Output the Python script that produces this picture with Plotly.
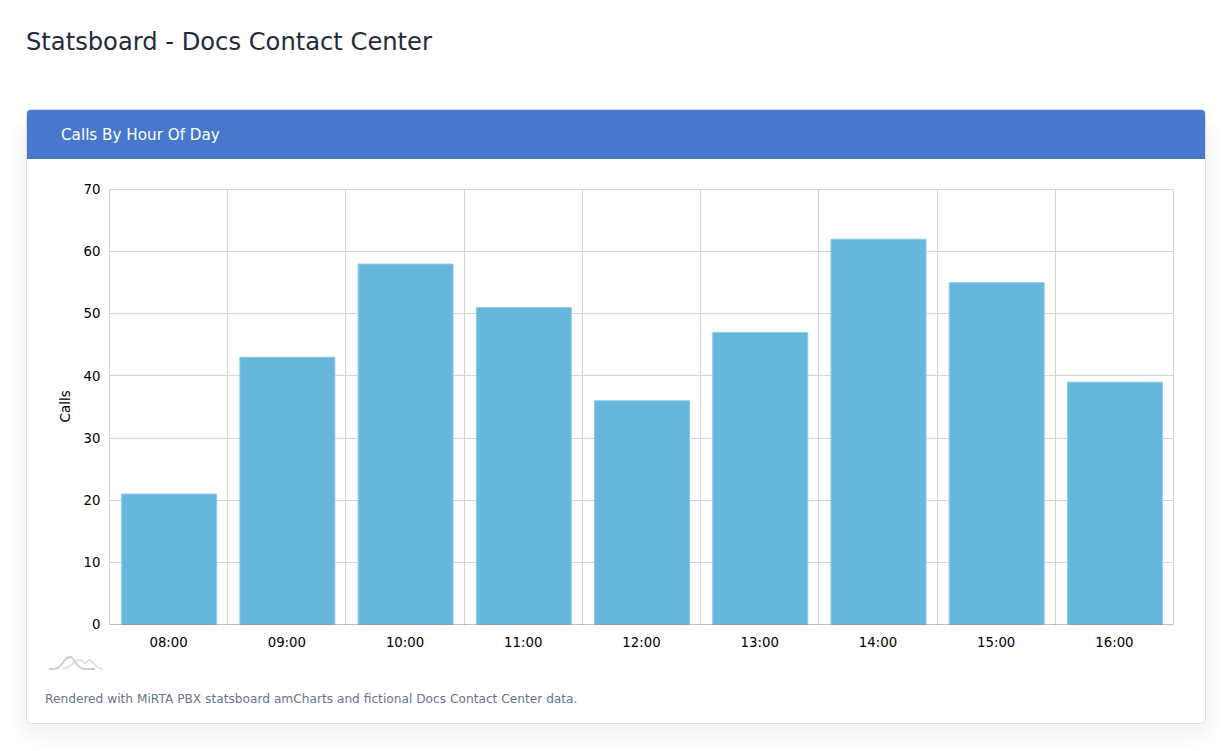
import plotly.graph_objects as go

# Chart data
hours = ["08:00", "09:00", "10:00", "11:00", "12:00", "13:00", "14:00", "15:00", "16:00"]
calls = [21, 43, 58, 51, 36, 47, 62, 55, 39]
y_ticks = [0, 10, 20, 30, 40, 50, 60, 70]

WIDTH, HEIGHT = 1232, 751
FONT = "DejaVu Sans"


def fx(x):
    return x / WIDTH


def fy(y):
    return 1 - y / HEIGHT


def rounded_path(x0, y0, x1, y1, rt, rb):
    """SVG path for a box with separate top and bottom corner radii, in page pixels."""
    pts = [
        f"M{fx(x0 + rt)},{fy(y0)}",
        f"L{fx(x1 - rt)},{fy(y0)}",
        f"Q{fx(x1)},{fy(y0)} {fx(x1)},{fy(y0 + rt)}",
        f"L{fx(x1)},{fy(y1 - rb)}",
        f"Q{fx(x1)},{fy(y1)} {fx(x1 - rb)},{fy(y1)}",
        f"L{fx(x0 + rb)},{fy(y1)}",
        f"Q{fx(x0)},{fy(y1)} {fx(x0)},{fy(y1 - rb)}",
        f"L{fx(x0)},{fy(y0 + rt)}",
        f"Q{fx(x0)},{fy(y0)} {fx(x0 + rt)},{fy(y0)}",
        "Z",
    ]
    return " ".join(pts)


def curve(points):
    """Open SVG path from page-pixel control points: start point then cubic triples."""
    (sx, sy), rest = points[0], points[1:]
    d = f"M{fx(sx)},{fy(sy)}"
    for i in range(0, len(rest), 3):
        a, b, c = rest[i:i + 3]
        d += f" C{fx(a[0])},{fy(a[1])} {fx(b[0])},{fy(b[1])} {fx(c[0])},{fy(c[1])}"
    return d


shapes = []

# Soft card shadow built from stacked translucent boxes, offset downward
for i in range(12):
    side = -6 + i * 2.2
    shapes.append(dict(
        type="path", xref="paper", yref="paper", layer="below",
        path=rounded_path(26.5 - side, 130 - i * 1.5, 1205.5 + side, 727 + i * 2,
                          side + 18, side + 18),
        fillcolor="rgba(0,0,0,0.0048)", line=dict(width=0),
    ))

# Card body and blue header band
shapes.append(dict(type="path", xref="paper", yref="paper", layer="below",
                   path=rounded_path(26.5, 109.5, 1205.5, 723.5, 5, 5),
                   fillcolor="#ffffff", line=dict(color="#d9dde6", width=1)))
shapes.append(dict(type="path", xref="paper", yref="paper", layer="below",
                   path=(f"M{fx(27)},{fy(159)} L{fx(27)},{fy(114)} Q{fx(27)},{fy(110)} {fx(31)},{fy(110)} "
                         f"L{fx(1201)},{fy(110)} Q{fx(1205)},{fy(110)} {fx(1205)},{fy(114)} "
                         f"L{fx(1205)},{fy(159)} Z"),
                   fillcolor="#4878cc", line=dict(width=0)))

# Plot frame: light on three sides, darker baseline drawn over the bars
frame_light = dict(color="#d4d4d4", width=1)
shapes.extend([
    dict(type="line", xref="x domain", yref="y domain", x0=0, x1=0, y0=0, y1=1, line=frame_light),
    dict(type="line", xref="x domain", yref="y domain", x0=1, x1=1, y0=0, y1=1, line=frame_light),
    dict(type="line", xref="x domain", yref="y domain", x0=0, x1=1, y0=1, y1=1, line=frame_light),
    dict(type="line", xref="x domain", yref="y domain", x0=0, x1=1, y0=0, y1=0,
         line=dict(color="rgba(0,0,0,0.25)", width=1)),
])

# Small wave logo under the axis
shapes.extend([
    dict(type="path", xref="paper", yref="paper", line=dict(color="#e0e0e0", width=1.8),
         path=curve([(62, 669), (70, 669), (74, 660), (80, 660),
                     (82, 660), (83, 663), (85, 663),
                     (87, 663), (87, 660), (89, 660),
                     (93, 660), (95, 669), (103, 669)])),
    dict(type="path", xref="paper", yref="paper", line=dict(color="#cccccc", width=1.8),
         path=curve([(49, 669), (56, 669), (59, 669), (62, 664),
                     (65, 659), (67, 657), (70, 657),
                     (74, 657), (77, 669), (84, 669),
                     (88, 669), (92, 669), (95, 669)])),
])

annotations = [
    dict(text="Statsboard - Docs Contact Center", xref="paper", yref="paper",
         x=fx(24), y=fy(41.5), xanchor="left", yanchor="middle", showarrow=False,
         font=dict(family=FONT, size=24.2, color="#232a3b")),
    dict(text="Calls By Hour Of Day", xref="paper", yref="paper",
         x=fx(59), y=fy(135), xanchor="left", yanchor="middle", showarrow=False,
         font=dict(family=FONT, size=15.2, color="#ffffff")),
    dict(text="Rendered with MiRTA PBX statsboard amCharts and fictional Docs Contact Center data.",
         xref="paper", yref="paper", x=fx(43), y=fy(698.5), xanchor="left", yanchor="middle",
         showarrow=False, font=dict(family=FONT, size=12.2, color="#66748c")),
    dict(text="Calls", xref="paper", yref="paper", x=fx(64.5), y=fy(407), textangle=-90,
         xanchor="center", yanchor="middle", showarrow=False,
         font=dict(family=FONT, size=13.5, color="#000000")),
]

fig = go.Figure(go.Bar(
    x=hours, y=calls, width=0.803, offset=-0.397,
    marker=dict(color="#67b7dc", line=dict(color="#8cc9e5", width=1)),
    hovertemplate="%{x}: %{y}<extra></extra>",
))

fig.update_layout(
    width=WIDTH, height=HEIGHT, margin=dict(l=0, r=0, t=0, b=0),
    paper_bgcolor="#ffffff", plot_bgcolor="rgba(0,0,0,0)",
    font=dict(family=FONT, size=13, color="#000000"),
    showlegend=False, shapes=shapes, annotations=annotations,
    xaxis=dict(domain=[fx(109.5), fx(1173.5)], type="category", tickson="boundaries", automargin=False,
               showgrid=True, gridcolor="#d4d4d4", gridwidth=1, ticks="", ticklabelstandoff=8,
               showline=False, zeroline=False, tickfont=dict(size=13.3), range=[-0.5, 8.5]),
    yaxis=dict(domain=[fy(624.5), fy(189.5)], range=[0, 70], tickvals=y_ticks, automargin=False,
               showgrid=True, gridcolor="#d4d4d4", gridwidth=1, ticks="", ticklabelstandoff=8,
               showline=False, zeroline=False, tickfont=dict(size=13.3)),
)

fig.write_html("out.html")
